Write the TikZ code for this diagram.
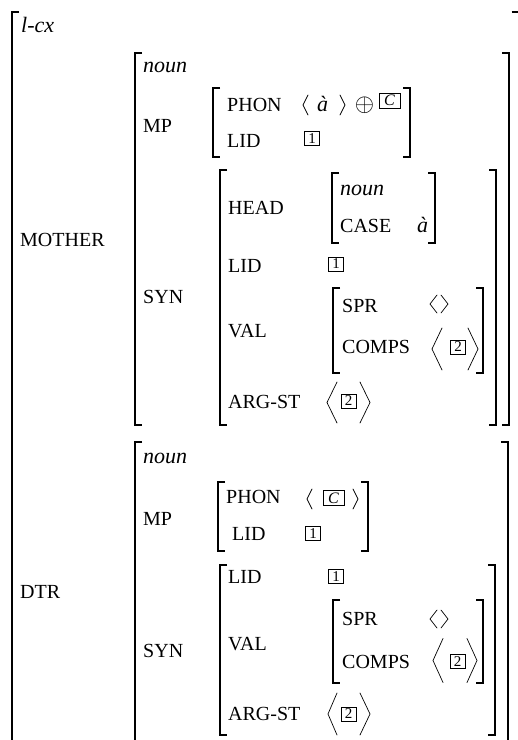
\documentclass[tikz,border=0pt]{standalone}
\usepackage{fontspec}
\setmainfont{Liberation Serif}
\tikzset{
  % bracket of an attribute-value matrix
  brk/.style={draw=black, line width=1.1pt},
  % angle brackets of a list
  ang/.style={draw=black, line width=.7pt, line cap=round},
  feat/.style={anchor=base west, inner sep=0pt, font=\fontsize{20}{20}\selectfont},
  typ/.style={anchor=base west, inner sep=0pt, font=\fontsize{22}{24}\selectfont\itshape},
  % boxed tags
  tag/.style={draw, line width=.7pt, inner sep=0pt, minimum width=15pt,
    minimum height=14pt, font=\fontsize{15}{15}\selectfont},
  tagc/.style={tag, minimum width=21pt, minimum height=15pt,
    font=\fontsize{16}{16}\selectfont\itshape},
}
% \avmL{x}{top}{bottom}, \avmR{x}{top}{bottom}
\newcommand{\avmL}[3]{\draw[brk] (#1+7,#2) -- (#1,#2) -- (#1,#3) -- (#1+7,#3);}
\newcommand{\avmR}[3]{\draw[brk] (#1-7,#2) -- (#1,#2) -- (#1,#3) -- (#1-7,#3);}
% \angL{x}{middle}{half height}{width}
\newcommand{\angL}[4]{\draw[ang] (#1+#4,#2-#3) -- (#1,#2) -- (#1+#4,#2+#3);}
\newcommand{\angR}[4]{\draw[ang] (#1,#2-#3) -- (#1+#4,#2) -- (#1,#2+#3);}

\begin{document}
\begin{tikzpicture}[x=1pt,y=-1pt]
\useasboundingbox (0,0) rectangle (518,740);

% ----- outer matrix -----
\avmL{12}{12}{748}
\avmR{518.5}{12}{748}
\node[typ] (lcx) at (21,32) {l-cx};
\node[feat] (mother) at (20,246) {MOTHER};
\node[feat] (dtr) at (20,598) {DTR};

% ----- MOTHER -----
\avmL{135}{53}{425}
\avmR{509}{53}{425}
\node[typ] (m-noun) at (143,72) {noun};
\node[feat] (m-mp) at (143,132) {MP};
\avmL{213}{88}{157}
\avmR{410}{88}{157}
\node[feat] (m-phon) at (227,111) {PHON};
\angL{303}{105}{10}{5}
\node[typ] (m-a) at (317,111) {à};
\angR{340}{105}{10}{5}
\node[inner sep=0pt] (m-oplus) at (364.5,105) {\fontsize{24}{24}\selectfont$\oplus$};
\node[tagc] (m-c) at (389.5,100.5) {C};
\node[feat] (m-lid) at (227,147) {LID};
\node[tag] (m-lid-t) at (312,138.5) {1};

\node[feat] (m-syn) at (143,303) {SYN};
\avmL{220}{170}{425}
\avmR{496}{170}{425}
\node[feat] (m-head) at (228,214) {HEAD};
\avmL{332}{173}{243}
\avmR{435}{173}{243}
\node[typ] (m-hnoun) at (340,195) {noun};
\node[feat] (m-case) at (340,232) {CASE};
\node[typ] (m-casev) at (417,232) {à};
\node[feat] (m-slid) at (228,272) {LID};
\node[tag] (m-slid-t) at (336,264) {1};
\node[feat] (m-val) at (228,337) {VAL};
\avmL{333}{288}{373}
\avmR{483}{288}{373}
\node[feat] (m-spr) at (342,312) {SPR};
\angL{430}{304}{9}{7}
\angR{441}{304}{9}{7}
\node[feat] (m-comps) at (342,353) {COMPS};
\angL{432}{349}{21}{10}
\node[tag] (m-comps-t) at (458,347) {2};
\angR{468}{349}{21}{10}
\node[feat] (m-argst) at (228,408) {ARG-ST};
\angL{327}{402.5}{20.5}{10}
\node[tag] (m-argst-t) at (348.5,401) {2};
\angR{360}{402.5}{20.5}{10}

% ----- DTR -----
\avmL{135}{442}{748}
\avmR{508}{442}{748}
\node[typ] (d-noun) at (143,463) {noun};
\node[feat] (d-mp) at (143,525) {MP};
\avmL{218}{482}{551}
\avmR{368}{482}{551}
\node[feat] (d-phon) at (226,503) {PHON};
\angL{307}{499}{10}{5}
\node[tagc] (d-c) at (333.5,498) {C};
\angR{353}{499}{10}{5}
\node[feat] (d-lid) at (232,540) {LID};
\node[tag] (d-lid-t) at (313,533.5) {1};

\node[feat] (d-syn) at (143,657) {SYN};
\avmL{220}{565}{735}
\avmR{495}{565}{735}
\node[feat] (d-slid) at (228,583) {LID};
\node[tag] (d-slid-t) at (336,576.5) {1};
\node[feat] (d-val) at (228,650) {VAL};
\avmL{333}{600}{683}
\avmR{483}{600}{683}
\node[feat] (d-spr) at (342,625) {SPR};
\angL{430}{619}{9}{7}
\angR{441}{619}{9}{7}
\node[feat] (d-comps) at (342,668) {COMPS};
\angL{433}{660.5}{22}{10}
\node[tag] (d-comps-t) at (457.5,661.5) {2};
\angR{467}{660.5}{22}{10}
\node[feat] (d-argst) at (228,720) {ARG-ST};
\angL{328}{714}{21}{9}
\node[tag] (d-argst-t) at (348.5,714) {2};
\angR{360}{714}{21}{10}

\end{tikzpicture}
\end{document}
